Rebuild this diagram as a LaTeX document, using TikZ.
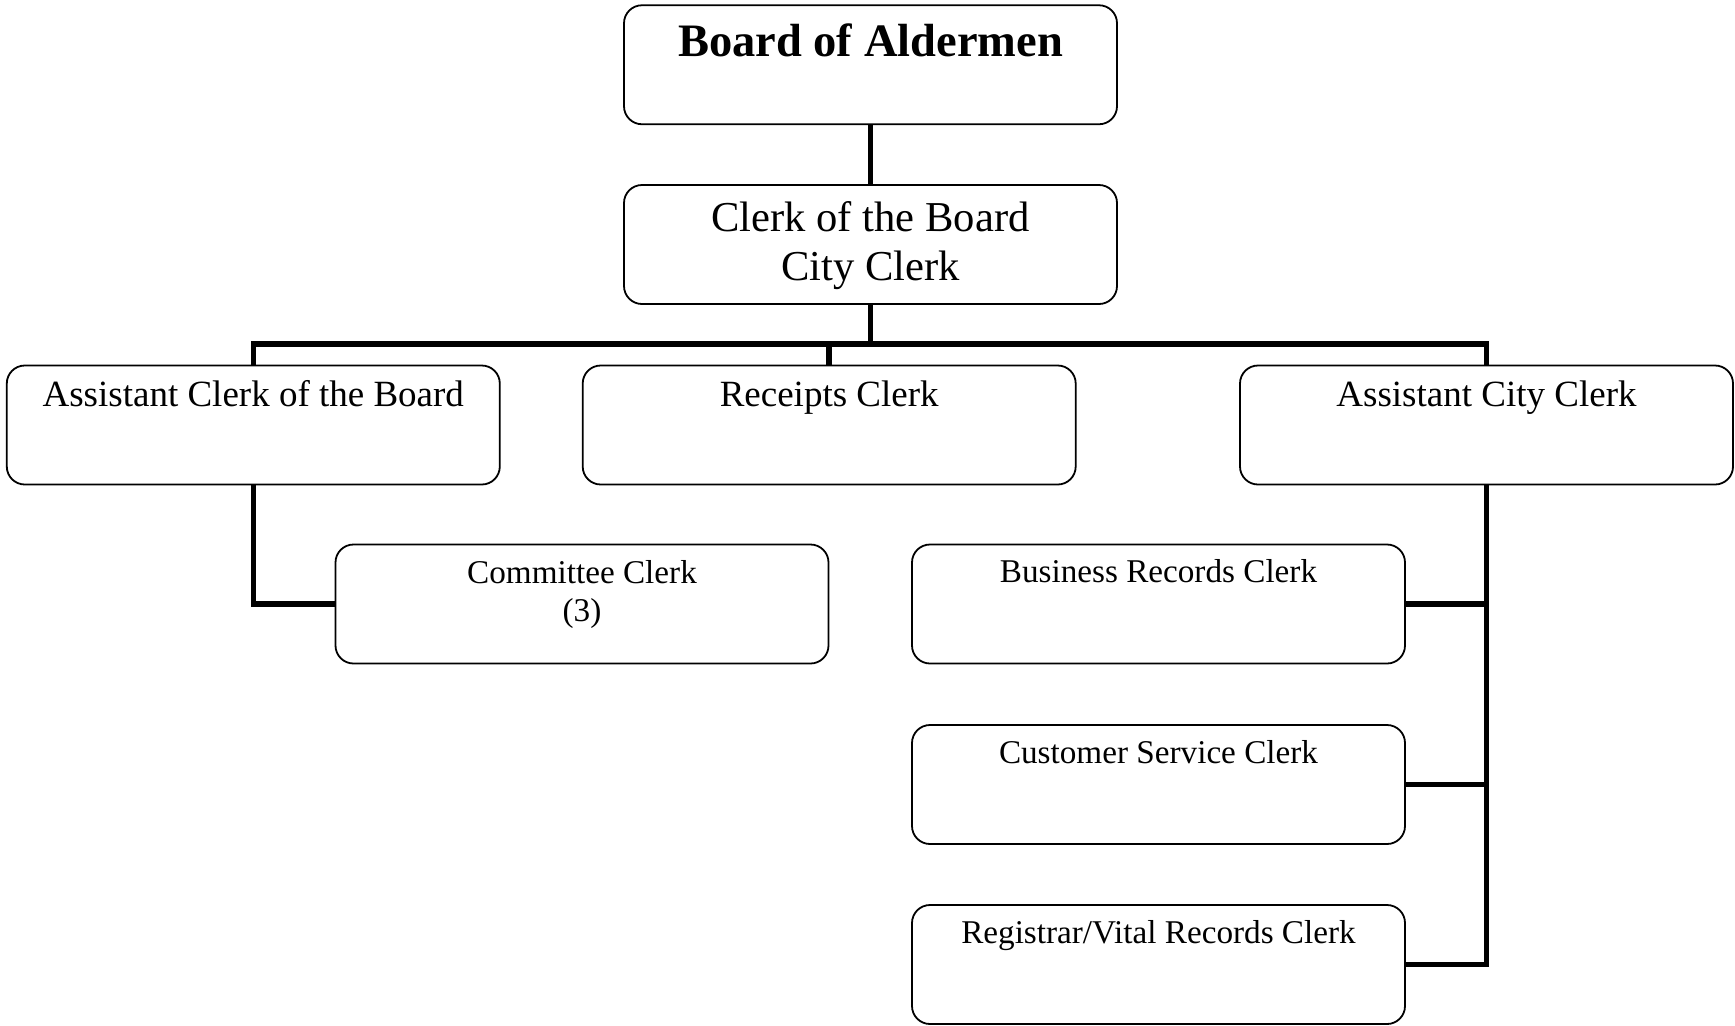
\documentclass[tikz,border=0pt]{standalone}
\usepackage{fontspec}
\setmainfont{Liberation Serif}

\begin{document}
\begin{tikzpicture}[x=0.5pt,y=-0.5pt,
    box node/.style={draw,rounded corners=9pt,line width=0.9pt,minimum width=246.5pt,minimum height=59.5pt,inner sep=0pt},
    link/.style={line width=2.75pt},
    txt/.style={inner sep=0pt,align=center},
    top txt/.style={txt,font=\fontsize{23.25}{28}\selectfont\bfseries},
    head txt/.style={txt,font=\fontsize{21.3}{24.5}\selectfont},
    mid txt/.style={txt,font=\fontsize{18.5}{22}\selectfont},
    low txt/.style={txt,font=\fontsize{16.6}{19}\selectfont}]
      \useasboundingbox (0,0) rectangle (1735,1025);

      \node [box node] (board) at (870.5,64.75) {};
      \node [box node] (clerk) at (870.5,244.5) {};
      \node [box node] (asstboard) at (253.3,425) {};
      \node [box node] (receipts) at (829.2,425) {};
      \node [box node] (asstcity) at (1486.5,425) {};
      \node [box node] (committee) at (582,604) {};
      \node [box node] (business) at (1158.5,604) {};
      \node [box node] (customer) at (1158.5,784.5) {};
      \node [box node] (registrar) at (1158.5,964.5) {};

      \node [top txt, anchor=base] (boardtxt) at ([yshift=-26pt]board.north) {Board of Aldermen};
      \node [head txt, anchor=north] (clerktxt) at ([yshift=-8.5pt]clerk.north) {Clerk of the Board\\City Clerk};
      \node [mid txt, anchor=base] (asstboardtxt) at ([yshift=-21pt]asstboard.north) {Assistant Clerk of the Board};
      \node [mid txt, anchor=base] (receiptstxt) at ([yshift=-21pt]receipts.north) {Receipts Clerk};
      \node [mid txt, anchor=base] (asstcitytxt) at ([yshift=-21pt]asstcity.north) {Assistant City Clerk};
      \node [low txt, anchor=north] (committeetxt) at ([yshift=-8.2pt]committee.north) {Committee Clerk\\(3)};
      \node [low txt, anchor=base] (businesstxt) at ([yshift=-19.5pt]business.north) {Business Records Clerk};
      \node [low txt, anchor=base] (customertxt) at ([yshift=-19.5pt]customer.north) {Customer Service Clerk};
      \node [low txt, anchor=base] (registrartxt) at ([yshift=-19.5pt]registrar.north) {Registrar/Vital Records Clerk};

      \coordinate (bus) at (870.5,344);
      \draw[link] (board) -- (clerk);
      \draw[link] (clerk) -- (bus);
      \draw[link] (bus) -| (asstboard.north);
      \draw[link] (bus) -| (receipts.north);
      \draw[link] (bus) -| (asstcity.north);

      \draw[link] (asstboard.south) |- (committee.west);
      \draw[link] (asstcity.south) |- (business.east);
      \draw[link] (asstcity.south) |- (customer.east);
      \draw[link] (asstcity.south) |- (registrar.east);
    \end{tikzpicture}
\end{document}
